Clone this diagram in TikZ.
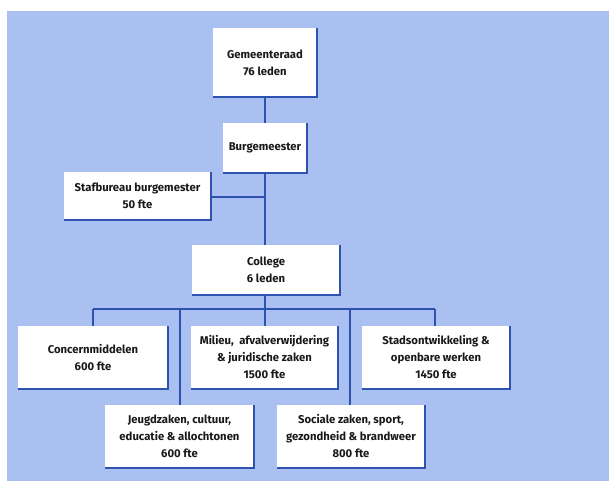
\documentclass[tikz,border=0pt]{standalone}
\usepackage{fontspec}
\setmainfont{Fira Sans}
\begin{document}
\begin{tikzpicture}[x=1pt,y=-1pt,
  box/.style={fill=white, inner sep=0pt, align=center, font=\fontsize{11.3}{17}\selectfont\bfseries, text=black!90},
  shade/.style={draw=lineblue, line width=1.6pt},
  conn/.style={draw=lineblue, line width=1.6pt}]
\definecolor{bgblue}{HTML}{A9C0F0}
\definecolor{lineblue}{HTML}{2F52B0}
\useasboundingbox (0,0) rectangle (609,481);
\fill[bgblue] (7,11) rectangle (609,481);
\node[box, minimum width=104pt, minimum height=69pt] (gr) at (265,62.5) {Gemeenteraad\\76 leden};
\node[box, minimum width=84pt, minimum height=50pt] (bm) at (265,148) {Burgemeester};
\node[box, minimum width=147pt, minimum height=48pt] (sb) at (137.5,196) {Stafbureau burgemester\\50 fte};
\node[box, minimum width=148pt, minimum height=50pt] (co) at (266,270) {College\\6 leden};
\node[box, minimum width=150pt, minimum height=63pt] (cm) at (93,357.5) {Concernmiddelen\\600 fte};
\node[box, minimum width=147pt, minimum height=63pt] (mi) at (264.5,357.5) {Milieu,\ \ afvalverwijdering\\\& juridische zaken\\1500 fte};
\node[box, minimum width=148pt, minimum height=63pt] (st) at (436,357.5) {Stadsontwikkeling \&\\openbare werken\\1450 fte};
\node[box, minimum width=149pt, minimum height=63pt] (jz) at (179.5,436.5) {Jeugdzaken, cultuur,\\educatie \& allochtonen\\600 fte};
\node[box, minimum width=148pt, minimum height=63pt] (sz) at (351,436.5) {Sociale zaken, sport,\\gezondheid \& brandweer\\800 fte};
\foreach \n in {gr,bm,sb,co,cm,mi,st,jz,sz}{
  \draw[shade] (\n.south west) -- (\n.south east) -- (\n.north east);
}
\coordinate (j1) at (265,197);
\coordinate (bus) at (265,309);
\coordinate (bl) at (93,309);
\coordinate (br) at (435,309);
\coordinate (b2) at (180,309);
\coordinate (b4) at (350,309);
\draw[conn] (gr.south) -- (bm.north);
\draw[conn] (bm.south) -- (co.north -| bm.south);
\draw[conn] (sb.east |- j1) -- (j1);
\draw[conn] (co.south -| bus) -- (bus);
\draw[conn] (bl) -- (br);
\draw[conn] (bl) -- (cm.north -| bl);
\draw[conn] (bus) -- (mi.north -| bus);
\draw[conn] (br) -- (st.north -| br);
\draw[conn] (b2) -- (jz.north -| b2);
\draw[conn] (b4) -- (sz.north -| b4);
\end{tikzpicture}
\end{document}
